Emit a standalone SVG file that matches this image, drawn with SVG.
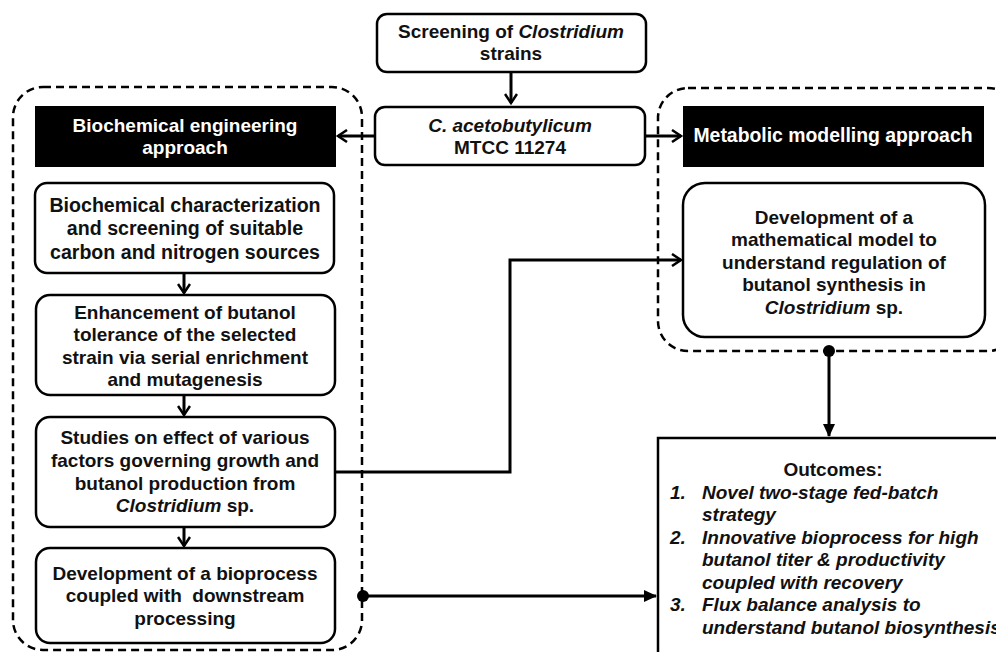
<svg xmlns="http://www.w3.org/2000/svg" width="996" height="652" viewBox="0 0 996 652">
<style>
text{font-family:"Liberation Sans",Arial,sans-serif;font-weight:bold;font-size:19px;fill:#111;text-anchor:middle}
.it{font-style:italic}
.wt{fill:#fff}
.box{fill:#fff;stroke:#000;stroke-width:2.5}
.hdr{fill:#000}
.dash{fill:none;stroke:#000;stroke-width:2.5;stroke-dasharray:8 5}
.con{fill:none;stroke:#000;stroke-width:3}
.lt{text-anchor:start}
</style>
<defs>
<marker id="chev" markerWidth="14" markerHeight="14" refX="11" refY="7" orient="auto" markerUnits="userSpaceOnUse">
<path d="M2,1 L11,7 L2,13" fill="none" stroke="#000" stroke-width="2.5"/>
</marker>
<marker id="tri" markerWidth="14" markerHeight="14" refX="12" refY="7" orient="auto" markerUnits="userSpaceOnUse">
<path d="M0,1 L13,7 L0,13 Z" fill="#000"/>
</marker>
</defs>
<rect width="996" height="652" fill="#fff"/>

<g id="containers">
<rect class="dash" x="13" y="87" width="349" height="563" rx="30"/>
<rect class="dash" x="658" y="88" width="360" height="263" rx="30"/>
</g>

<g id="connectors">
<line class="con" x1="511" y1="72" x2="511" y2="103" marker-end="url(#chev)"/>
<line class="con" x1="375" y1="136" x2="338" y2="136" marker-end="url(#chev)"/>
<line class="con" x1="645" y1="136" x2="681" y2="136" marker-end="url(#chev)"/>
<line class="con" x1="184" y1="273" x2="184" y2="293" marker-end="url(#chev)"/>
<line class="con" x1="184" y1="395" x2="184" y2="415" marker-end="url(#chev)"/>
<line class="con" x1="184" y1="527" x2="184" y2="546" marker-end="url(#chev)"/>
<polyline class="con" points="335,472 510,472 510,260 681,260" marker-end="url(#chev)"/>
<line class="con" x1="363" y1="596" x2="656" y2="596" marker-end="url(#tri)"/>
<circle cx="363" cy="596" r="6" fill="#000"/>
<line class="con" x1="829" y1="351" x2="829" y2="436" marker-end="url(#tri)"/>
<circle cx="829" cy="351" r="6" fill="#000"/>
</g>

<g id="screening">
<rect class="box" x="377" y="14" width="269" height="58" rx="10"/>
<text x="511" y="38">Screening of <tspan class="it">Clostridium</tspan></text>
<text x="511" y="60">strains</text>
</g>

<g id="cacetobutylicum">
<rect class="box" x="375" y="107" width="270" height="58" rx="10"/>
<text x="510" y="132" class="it">C. acetobutylicum</text>
<text x="510" y="154">MTCC 11274</text>
</g>

<g id="biochem-header">
<rect class="hdr" x="35" y="106" width="301" height="61"/>
<text class="wt" x="185" y="132">Biochemical engineering</text>
<text class="wt" x="185" y="154">approach</text>
</g>

<g id="metabolic-header">
<rect class="hdr" x="683" y="106" width="301" height="61"/>
<text class="wt" x="833" y="142" style="font-size:19.4px">Metabolic modelling approach</text>
</g>

<g id="characterization">
<rect class="box" x="35" y="183" width="299" height="90" rx="12"/>
<text x="185" y="212" style="font-size:19.6px">Biochemical characterization</text>
<text x="185" y="235" style="font-size:19.6px">and screening of suitable</text>
<text x="185" y="259" style="font-size:19.6px">carbon and nitrogen sources</text>
</g>

<g id="tolerance">
<rect class="box" x="36" y="295" width="299" height="100" rx="14"/>
<text x="185" y="319">Enhancement of butanol</text>
<text x="185" y="341">tolerance of the selected</text>
<text x="185" y="364">strain via serial enrichment</text>
<text x="185" y="386">and mutagenesis</text>
</g>

<g id="studies">
<rect class="box" x="36" y="417" width="299" height="110" rx="14"/>
<text x="185" y="444">Studies on effect of various</text>
<text x="185" y="467">factors governing growth and</text>
<text x="185" y="490">butanol production from</text>
<text x="185" y="512"><tspan class="it">Clostridium</tspan> sp.</text>
</g>

<g id="bioprocess">
<rect class="box" x="36" y="548" width="299" height="95" rx="14"/>
<text x="185" y="580">Development of a bioprocess</text>
<text x="185" y="602" xml:space="preserve">coupled with  downstream</text>
<text x="185" y="625">processing</text>
</g>

<g id="model">
<rect class="box" x="683" y="183" width="302" height="154" rx="22"/>
<text x="834" y="224">Development of a</text>
<text x="834" y="246">mathematical model to</text>
<text x="834" y="269">understand regulation of</text>
<text x="834" y="291">butanol synthesis in</text>
<text x="834" y="314"><tspan class="it">Clostridium</tspan> sp.</text>
</g>

<g id="outcomes">
<rect class="box" x="658" y="438" width="360" height="240"/>
<text x="833" y="476">Outcomes:</text>
<text class="lt it" x="670" y="499">1.</text>
<text class="lt it" x="702" y="499">Novel two-stage fed-batch</text>
<text class="lt it" x="702" y="521">strategy</text>
<text class="lt it" x="670" y="544">2.</text>
<text class="lt it" x="702" y="544">Innovative bioprocess for high</text>
<text class="lt it" x="702" y="566">butanol titer &amp; productivity</text>
<text class="lt it" x="702" y="589">coupled with recovery</text>
<text class="lt it" x="670" y="611">3.</text>
<text class="lt it" x="702" y="611">Flux balance analysis to</text>
<text class="lt it" x="702" y="634">understand butanol biosynthesis</text>
</g>
</svg>
